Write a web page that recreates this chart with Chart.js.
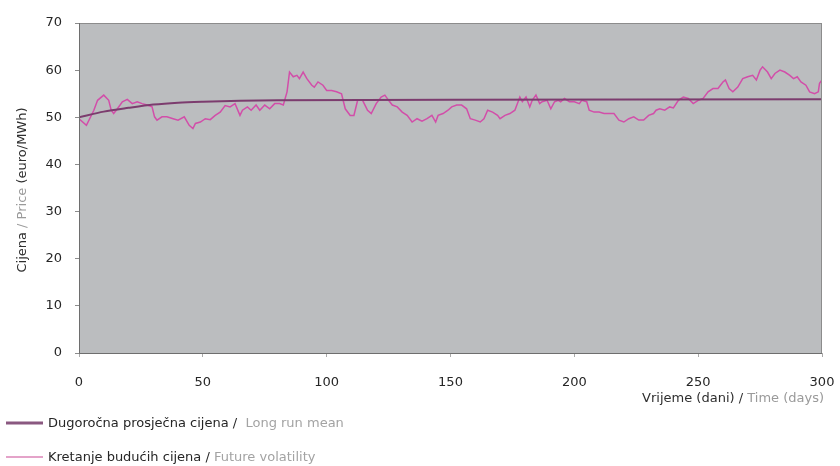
<!DOCTYPE html>
<html>
<head>
<meta charset="utf-8">
<script src="https://cdn.jsdelivr.net/npm/chart.js@4"></script>
<style>
  html, body { margin: 0; padding: 0; background: #ffffff; }
  #c { display: block; }
</style>
</head>
<body>
<canvas id="c" width="840" height="466"></canvas>
<script>
// ---- data ----
const yTicks = [0, 10, 20, 30, 40, 50, 60, 70];
const xTicks = [0, 50, 100, 150, 200, 250, 300];

const meanDays   = [0, 10, 20, 30, 40, 50, 65, 80, 150, 300];
const meanValues = [50.0, 51.2, 52.0, 52.7, 53.1, 53.3, 53.5, 53.6, 53.7, 53.8];

const volDays = [0, 3, 6, 7.5, 10, 12, 13, 14, 15.5, 17.5, 19.5, 21.5, 23.5, 25.5, 27.5, 29.5, 30.5, 31.5, 33.5, 35.5,
  38, 40, 42.5, 44.5, 46, 47, 49, 51, 53, 55, 57, 59, 61, 63, 65, 66, 68, 69.5, 71.5, 73,
  75, 77, 79, 81, 82.5, 84, 85, 86.5, 88, 89, 90.5, 92, 94, 95, 96.5, 98.5, 100, 102, 104, 106,
  107.5, 109.5, 111, 112.5, 114.5, 116.5, 118, 120, 122, 123.5, 125, 126.5, 128.5, 130.5, 132.5, 134.5, 136.5, 138.5, 140.5, 142.5,
  144, 145, 147, 149, 150.5, 152.5, 154.5, 156.5, 158, 160, 162, 163.5, 165, 167, 169, 170, 172, 174, 176, 178,
  179, 180.5, 182, 183, 184.5, 186, 187, 189, 190.5, 192, 193.5, 194.5, 196, 198, 200, 202, 203, 205, 206, 208,
  210, 212, 214, 216, 218, 220, 222, 224, 226, 228, 230, 232, 233, 234.5, 236.5, 238.5, 240, 242, 244, 246,
  248, 250, 252, 254, 256, 258, 260, 261, 262.5, 264, 266, 268, 270, 272, 273.5, 275, 276, 278, 279.5, 281,
  283, 285, 287, 288.5, 290, 291.5, 293.5, 295, 297, 298.5, 299, 300];
const volValues = [49.7, 48.3, 51.5, 53.6, 54.7, 53.6, 51.5, 50.8, 51.8, 53.3, 53.8, 52.9, 53.3, 52.9, 52.6, 52.2, 50.1, 49.4, 50.1, 50.1,
  49.7, 49.4, 50.1, 48.3, 47.6, 48.7, 49.0, 49.7, 49.5, 50.4, 51.1, 52.5, 52.2, 52.9, 50.4, 51.5, 52.2, 51.5, 52.6, 51.5,
  52.6, 51.8, 52.9, 52.9, 52.6, 55.4, 59.6, 58.6, 58.9, 58.2, 59.6, 58.2, 56.8, 56.4, 57.5, 56.8, 55.7, 55.7, 55.4, 55.0,
  51.8, 50.4, 50.4, 53.6, 53.6, 51.5, 50.8, 52.9, 54.3, 54.7, 53.6, 52.6, 52.2, 51.1, 50.4, 49.0, 49.7, 49.2, 49.7, 50.4,
  49.0, 50.4, 50.8, 51.5, 52.2, 52.6, 52.6, 51.8, 49.7, 49.4, 49.0, 49.7, 51.5, 51.1, 50.4, 49.7, 50.4, 50.8, 51.5, 54.3,
  53.3, 54.3, 52.2, 53.6, 54.7, 52.9, 53.3, 53.6, 51.8, 53.3, 53.6, 53.3, 54.0, 53.3, 53.3, 52.9, 53.6, 53.3, 51.5, 51.1,
  51.1, 50.8, 50.8, 50.8, 49.4, 49.0, 49.7, 50.1, 49.4, 49.4, 50.4, 50.8, 51.5, 51.8, 51.5, 52.2, 52.0, 53.6, 54.3, 54.0,
  52.9, 53.6, 54.0, 55.4, 56.1, 56.1, 57.5, 57.9, 56.1, 55.4, 56.4, 58.2, 58.6, 58.9, 57.9, 60.0, 60.7, 59.6, 58.2, 59.3,
  60.0, 59.6, 58.9, 58.2, 58.6, 57.5, 56.8, 55.4, 55.0, 55.4, 57.2, 57.9];

const yTitleParts = [["Cijena", "#2e2e2e"], [" / Price ", "#9a9a9a"], ["(euro/MWh)", "#2e2e2e"]];
const xTitleParts = [["Vrijeme (dani) / ", "#2e2e2e"], ["Time (days)", "#9a9a9a"]];
const legendItems = [
  { color: "#8a5880", width: 3, parts: [["Dugoročna prosječna cijena /", "#262626"], ["  Long run mean", "#a3a3a3"]] },
  { color: "#e4a3c9", width: 2, parts: [["Kretanje budućih cijena / ", "#262626"], ["Future volatility", "#a3a3a3"]] }
];

const FAMILY = "'DejaVu Sans', Verdana, sans-serif";
const FONT = "13px " + FAMILY;

const toPts = (xs, ys) => xs.map((x, i) => ({ x: x, y: ys[i] }));

const decor = {
  id: 'decor',
  beforeDatasetsDraw(chart) {
    const { ctx, chartArea: a } = chart;
    ctx.save();
    ctx.fillStyle = '#bbbdbf';
    ctx.fillRect(a.left, a.top, a.right - a.left, a.bottom - a.top);
    ctx.restore();
  },
  afterDraw(chart) {
    const { ctx, chartArea: a } = chart;
    ctx.save();
    // frame
    ctx.strokeStyle = '#8c8c8c';
    ctx.lineWidth = 1;
    ctx.strokeRect(a.left + 0.5, a.top + 0.5, a.right - a.left - 1, a.bottom - a.top);
    ctx.strokeStyle = '#6e6e6e';
    ctx.beginPath();
    ctx.moveTo(a.left + 0.5, a.top);
    ctx.lineTo(a.left + 0.5, a.bottom + 0.5);
    ctx.lineTo(a.right, a.bottom + 0.5);
    ctx.stroke();

    ctx.font = FONT;
    ctx.textBaseline = 'middle';
    const widthOf = parts => parts.reduce((s, p) => s + ctx.measureText(p[0]).width, 0);
    const drawParts = (parts, x, y) => {
      let cx = x;
      for (const [t, c] of parts) {
        ctx.fillStyle = c;
        ctx.fillText(t, cx, y);
        cx += ctx.measureText(t).width;
      }
    };
    ctx.textAlign = 'left';

    // y title
    ctx.save();
    ctx.translate(23, 190);
    ctx.rotate(-Math.PI / 2);
    drawParts(yTitleParts, -widthOf(yTitleParts) / 2, 0);
    ctx.restore();

    // x title, right aligned
    drawParts(xTitleParts, a.right + 2 - widthOf(xTitleParts), 399);

    // legend
    const ly = [423, 457];
    legendItems.forEach((it, i) => {
      ctx.strokeStyle = it.color;
      ctx.lineWidth = it.width;
      ctx.beginPath();
      ctx.moveTo(6, ly[i]);
      ctx.lineTo(43, ly[i]);
      ctx.stroke();
      drawParts(it.parts, 48, ly[i] + 1);
    });
    ctx.restore();
  }
};

new Chart(document.getElementById('c'), {
  type: 'line',
  data: {
    datasets: [
      {
        label: 'Dugoročna prosječna cijena / Long run mean',
        data: toPts(meanDays, meanValues),
        borderColor: '#7c3c6e',
        borderWidth: 2,
        pointRadius: 0,
        tension: 0.3,
        order: 0
      },
      {
        label: 'Kretanje budućih cijena / Future volatility',
        data: toPts(volDays, volValues),
        borderColor: '#d24ea9',
        borderWidth: 1.5,
        pointRadius: 0,
        tension: 0,
        order: 1
      }
    ]
  },
  options: {
    responsive: false,
    animation: false,
    devicePixelRatio: 1,
    layout: { padding: { left: 0, top: 23, right: 18, bottom: 68 } },
    plugins: { legend: { display: false }, tooltip: { enabled: false } },
    scales: {
      x: {
        type: 'linear',
        min: 0, max: 300,
        afterBuildTicks: s => { s.ticks = xTicks.map(v => ({ value: v })); },
        afterFit: s => { s.height = 45; s.paddingLeft = 0; s.paddingRight = 0; },
        grid: { display: true, drawOnChartArea: false, drawTicks: true, tickLength: 4, color: '#aaaaaa' },
        border: { display: false },
        ticks: { color: '#262626', font: { family: FAMILY, size: 13 }, padding: 18, maxRotation: 0 }
      },
      y: {
        min: 0, max: 70,
        afterBuildTicks: s => { s.ticks = yTicks.map(v => ({ value: v })); },
        afterFit: s => { s.width = 79; s.paddingTop = 0; s.paddingBottom = 0; },
        grid: { display: true, drawOnChartArea: false, drawTicks: true, tickLength: 4, color: '#8c8c8c' },
        border: { display: false },
        ticks: { color: '#262626', font: { family: FAMILY, size: 13 }, padding: 13 }
      }
    }
  },
  plugins: [decor]
});
</script>
</body>
</html>
